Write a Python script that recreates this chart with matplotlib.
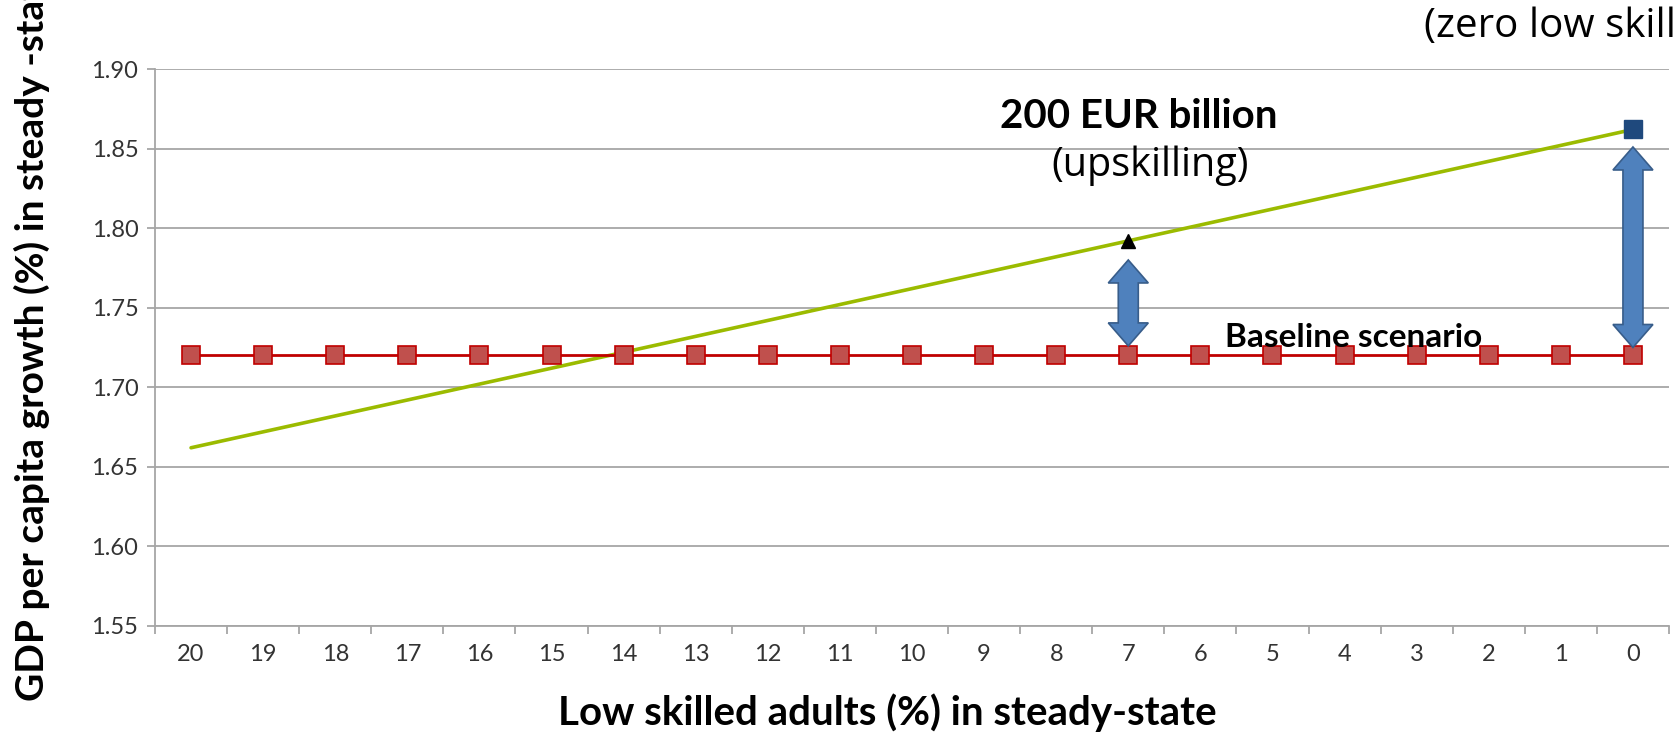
import numpy as np
import matplotlib
matplotlib.use("Agg")
import matplotlib.pyplot as plt
from matplotlib.patches import Polygon

plt.rcParams['font.family'] = ['Lato', 'DejaVu Sans']

# data
low_skilled = [20, 19, 18, 17, 16, 15, 14, 13, 12, 11, 10, 9, 8, 7, 6, 5, 4, 3, 2, 1, 0]
baseline = [1.72] * 21
upskilling = [1.662, 1.672, 1.682, 1.692, 1.702, 1.712, 1.722, 1.732, 1.742, 1.752,
              1.762, 1.772, 1.782, 1.792, 1.802, 1.812, 1.822, 1.832, 1.842, 1.852, 1.862]
highlight_200 = 7      # low skilled % where the 200 EUR billion point sits
highlight_zero = 0
y_ticks = [1.55, 1.60, 1.65, 1.70, 1.75, 1.80, 1.85, 1.90]

W, H, DPI = 1673, 734, 100
fig = plt.figure(figsize=(W / DPI, H / DPI), dpi=DPI)
ax = fig.add_axes([155 / W, 1 - 626 / H, (1669 - 155) / W, (626 - 69) / H])

xpos = np.arange(len(low_skilled))
grid_c = '#A6A6A6'
for yt in y_ticks:
    ax.axhline(yt, color=grid_c, lw=1.3, zorder=0)

ax.plot(xpos, upskilling, color='#9BBB00', lw=2.6, zorder=2, solid_capstyle='round')
ax.plot(xpos, baseline, color='#C00000', lw=2.0, marker='s', markersize=13,
        markerfacecolor='#C0504D', markeredgecolor='#C00000', markeredgewidth=1.2, zorder=3)

i7 = low_skilled.index(highlight_200)
i0 = low_skilled.index(highlight_zero)
ax.plot(xpos[i7], upskilling[i7], marker='^', color='black', markersize=10, zorder=4)
ax.plot(xpos[i0], upskilling[i0], marker='s', color='#1F497D', markersize=13, zorder=4)

ax.set_xlim(-0.5, len(low_skilled) - 0.5)
ax.set_ylim(1.55, 1.90)
ax.set_yticks(y_ticks)
ax.set_yticklabels([f'{v:.2f}' for v in y_ticks], fontsize=17, color='#333333')
ax.set_xticks(xpos)
ax.set_xticklabels([str(v) for v in low_skilled], fontsize=17, color='#333333')
ax.set_xticks(np.arange(len(low_skilled) + 1) - 0.5, minor=True)
ax.tick_params(axis='x', which='major', length=0, pad=13)
ax.tick_params(axis='x', which='minor', length=6, color=grid_c, width=1.3)
ax.tick_params(axis='y', length=6, color=grid_c, width=1.3, pad=6)
for s in ['top', 'right']:
    ax.spines[s].set_visible(False)
for s in ['left', 'bottom']:
    ax.spines[s].set_color(grid_c)
    ax.spines[s].set_linewidth(1.3)

# double arrows from baseline to the upskilling points
def double_arrow(i, y_lo, y_hi):
    x, lo = ax.transData.transform((xpos[i], y_lo))
    _, hi = ax.transData.transform((xpos[i], y_hi))
    hw, sw, hl = 20, 10, 23
    pts = [(x, hi), (x + hw, hi - hl), (x + sw, hi - hl), (x + sw, lo + hl), (x + hw, lo + hl),
           (x, lo), (x - hw, lo + hl), (x - sw, lo + hl), (x - sw, hi - hl), (x - hw, hi - hl)]
    ax.add_patch(Polygon(pts, closed=True, transform=None, facecolor='#4F81BD',
                         edgecolor='#385D8A', lw=1.2, zorder=5))

double_arrow(i7, baseline[i7] + 0.006, upskilling[i7] - 0.012)
double_arrow(i0, baseline[i0] + 0.005, upskilling[i0] - 0.011)

ax.text(13.15, 1.870, '200 EUR billion', fontsize=29, fontweight='bold', ha='center', va='center')
ax.text(13.3, 1.839, '(upskilling)', fontsize=28.5, family=['Open Sans', 'DejaVu Sans'],
        ha='center', va='center')
ax.text(17.1, 1.9264, '(zero low skilled)', fontsize=29, family=['Open Sans', 'DejaVu Sans'],
        ha='left', va='center', clip_on=False)
ax.text(16.13, 1.7255, 'Baseline scenario', fontsize=24, fontweight='bold', ha='center', va='baseline')

fig.text(32 / W, 1 - 701 / H, 'GDP per capita growth (%) in steady -state', rotation=90,
         fontsize=28, fontweight='bold', ha='center', va='bottom')
fig.text(887 / W, 1 - 713 / H, 'Low skilled adults (%) in steady-state',
         fontsize=29, fontweight='bold', ha='center', va='center')

fig.savefig('out.png', dpi=DPI)
